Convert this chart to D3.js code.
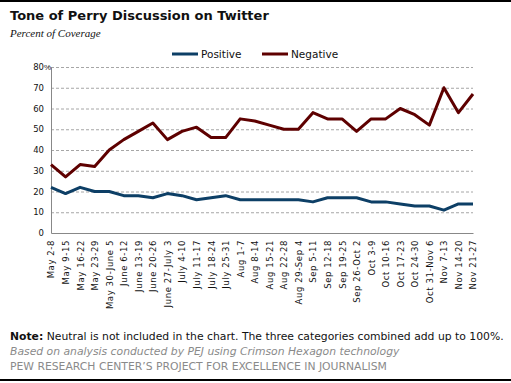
<!DOCTYPE html>
<html>
<head>
<meta charset="utf-8">
<script src="https://cdn.jsdelivr.net/npm/d3@7"></script>
<style>
  body { margin: 0; background: #fff; }
  svg { display: block; font-family: Verdana, "DejaVu Sans", sans-serif; }
</style>
</head>
<body>
<div id="chart"></div>
<script>
const weeks = [
  "May 2-8", "May 9-15", "May 16-22", "May 23-29", "May 30-June 5",
  "June 6-12", "June 13-19", "June 20-26", "June 27-July 3", "July 4-10",
  "July 11-17", "July 18-24", "July 25-31", "Aug 1-7", "Aug 8-14",
  "Aug 15-21", "Aug 22-28", "Aug 29-Sep 4", "Sep 5-11", "Sep 12-18",
  "Sep 19-25", "Sep 26-Oct 2", "Oct 3-9", "Oct 10-16", "Oct 17-23",
  "Oct 24-30", "Oct 31-Nov 6", "Nov 7-13", "Nov 14-20", "Nov 21-27"
];
const positive = [22, 19, 22, 20, 20, 18, 18, 17, 19, 18, 16, 17, 18, 16, 16,
  16, 16, 16, 15, 17, 17, 17, 15, 15, 14, 13, 13, 11, 14, 14];
const negative = [33, 27, 33, 32, 40, 45, 49, 53, 45, 49, 51, 46, 46, 55, 54,
  52, 50, 50, 58, 55, 55, 49, 55, 55, 60, 57, 52, 70, 58, 67];
const yTicks = [0, 10, 20, 30, 40, 50, 60, 70, 80];

const series = [
  { name: "Positive", values: positive, color: "#0d3f66" },
  { name: "Negative", values: negative, color: "#5e0000" }
];

const width = 511, height = 383;
const margin = { top: 67, right: 38, bottom: 150, left: 51 };

const svg = d3.select("#chart").append("svg")
  .attr("width", width)
  .attr("height", height);

// frame lines top and bottom
svg.append("rect").attr("x", 0).attr("y", 0).attr("width", width).attr("height", 2).attr("fill", "#000");
svg.append("rect").attr("x", 0).attr("y", 379).attr("width", width).attr("height", 2).attr("fill", "#000");

svg.append("text")
  .attr("x", 10).attr("y", 20)
  .attr("font-size", 13).attr("font-weight", "bold")
  .attr("fill", "#111")
  .text("Tone of Perry Discussion on Twitter");

svg.append("text")
  .attr("x", 10).attr("y", 37)
  .attr("font-family", "'Liberation Serif', serif")
  .attr("font-style", "italic")
  .attr("font-size", 11)
  .attr("fill", "#111")
  .text("Percent of Coverage");

const x = d3.scalePoint()
  .domain(weeks)
  .range([margin.left, width - margin.right]);

const y = d3.scaleLinear()
  .domain([0, 80])
  .range([height - margin.bottom, margin.top]);

// gridlines
svg.append("g")
  .selectAll("line")
  .data(yTicks.filter((d) => d > 0))
  .join("line")
  .attr("x1", margin.left)
  .attr("x2", width - margin.right)
  .attr("y1", (d) => y(d) + 0.5)
  .attr("y2", (d) => y(d) + 0.5)
  .attr("stroke", "#a6a6a6")
  .attr("stroke-dasharray", "3,2");

// y axis
const yAxis = svg.append("g")
  .attr("transform", `translate(${margin.left},0)`)
  .call(d3.axisLeft(y).tickValues(yTicks).tickSize(0).tickPadding(7)
    .tickFormat((d) => d));
yAxis.select(".domain").attr("stroke", "#888");
yAxis.selectAll("text").attr("font-size", 8.5).attr("fill", "#111")
  .attr("font-family", "Verdana, 'DejaVu Sans', sans-serif");
yAxis.selectAll(".tick").filter((d) => d === 80).append("text")
  .attr("x", -7).attr("dy", "0.32em")
  .attr("text-anchor", "start")
  .attr("font-size", 8).attr("fill", "#111")
  .text("%");

// x axis
const xAxis = svg.append("g")
  .attr("transform", `translate(0,${y(0)})`)
  .call(d3.axisBottom(x).tickSize(0).tickPadding(0));
xAxis.select(".domain").attr("stroke", "#888");
xAxis.selectAll("text")
  .attr("font-size", 8.5).attr("fill", "#111")
  .attr("letter-spacing", 0.6)
  .attr("font-family", "Verdana, 'DejaVu Sans', sans-serif")
  .attr("text-anchor", "end")
  .attr("transform", "rotate(-90)")
  .attr("x", -7).attr("y", 0).attr("dy", "0.35em");

// lines
const line = d3.line()
  .x((d, i) => x(weeks[i]))
  .y((d) => y(d));

svg.append("g")
  .selectAll("path")
  .data(series)
  .join("path")
  .attr("d", (d) => line(d.values))
  .attr("fill", "none")
  .attr("stroke", (d) => d.color)
  .attr("stroke-width", 3)
  .attr("stroke-linejoin", "round");

// legend
const legend = svg.append("g")
  .selectAll("g")
  .data(series)
  .join("g")
  .attr("transform", (d, i) => `translate(${172 + i * 90},54)`);
legend.append("line")
  .attr("x1", 0).attr("x2", 26)
  .attr("stroke", (d) => d.color)
  .attr("stroke-width", 3);
legend.append("text")
  .attr("x", 29).attr("dy", "0.35em")
  .attr("font-size", 10.5).attr("fill", "#111")
  .text((d) => d.name);

// footer
const note = svg.append("text")
  .attr("x", 10).attr("y", 340)
  .attr("font-size", 10.8).attr("fill", "#111");
note.append("tspan").attr("font-weight", "bold").text("Note:");
note.append("tspan").text(" Neutral is not included in the chart. The three categories combined add up to 100%.");

svg.append("text")
  .attr("x", 10).attr("y", 355)
  .attr("font-size", 10.8).attr("font-style", "italic")
  .attr("fill", "#8a8a8a")
  .text("Based on analysis conducted by PEJ using Crimson Hexagon technology");

svg.append("text")
  .attr("x", 10).attr("y", 370)
  .attr("font-size", 10.8)
  .attr("fill", "#8a8a8a")
  .text("PEW RESEARCH CENTER’S PROJECT FOR EXCELLENCE IN JOURNALISM");
</script>
</body>
</html>
